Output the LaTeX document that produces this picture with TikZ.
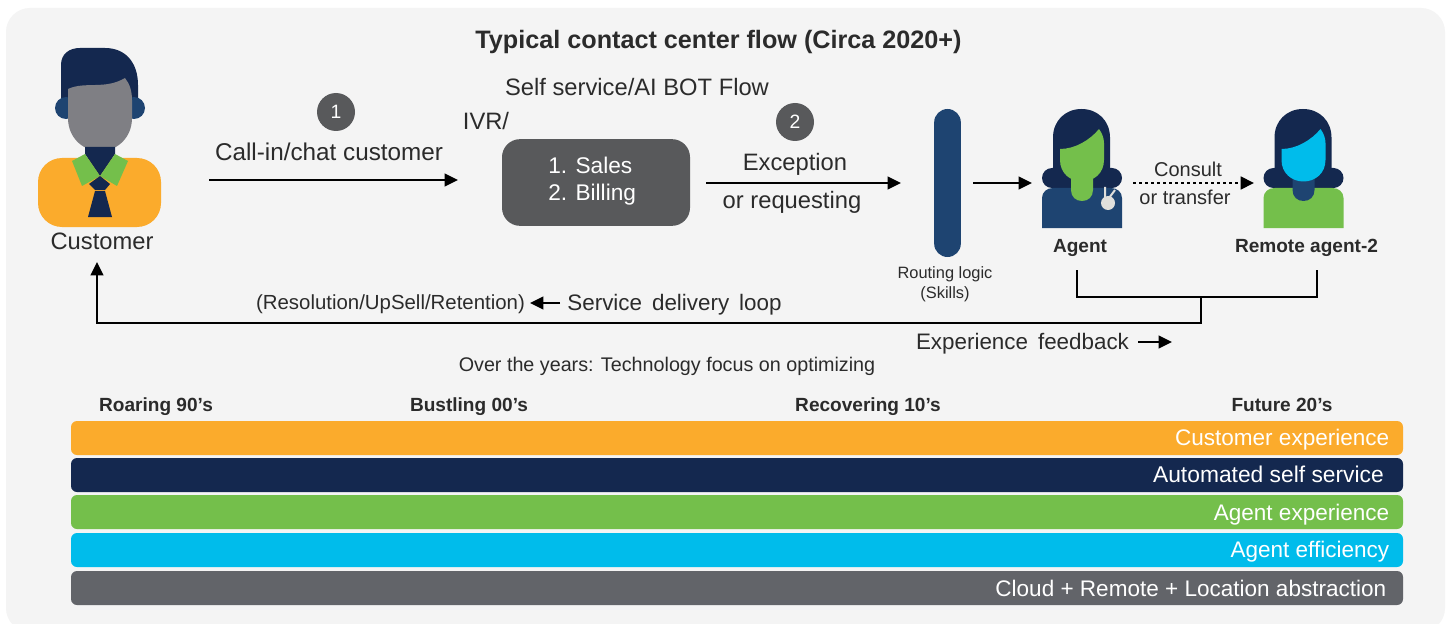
\documentclass[tikz,border=0pt]{standalone}
\usepackage{fontspec}
\setmainfont{Liberation Sans}
\usetikzlibrary{arrows.meta}
\definecolor{panelgray}{HTML}{F4F4F4}
\definecolor{ciscoorange}{HTML}{FBAB2C}
\definecolor{cisconavy}{HTML}{14284F}
\definecolor{ciscoblue}{HTML}{1E4471}
\definecolor{ciscogreen}{HTML}{74BF4B}
\definecolor{ciscocyan}{HTML}{00BCEB}
\definecolor{ciscogray}{HTML}{626469}
\definecolor{boxgray}{HTML}{58595B}
\definecolor{facegray}{HTML}{7F7F84}
\definecolor{inktext}{HTML}{2B2B2B}
\definecolor{scopegray}{HTML}{DFDFDC}
\tikzset{
  lbl/.style={text=inktext,inner sep=0pt,font=\fontsize{17.8}{20}\selectfont},
  widelbl/.style={text=inktext,inner sep=0pt,font=\fontsize{16.8}{20}\selectfont},
  smalllbl/.style={text=inktext,inner sep=0pt,font=\fontsize{15}{18}\selectfont},
  boldlbl/.style={text=inktext,inner sep=0pt,font=\bfseries\fontsize{14.3}{17}\selectfont},
  barbox/.style={fill=#1,rounded corners=4.5pt},
  barlbl/.style={text=white,inner sep=0pt,anchor=east,font=\fontsize{16.9}{20}\selectfont},
  stepnum/.style={circle,fill=boxgray,text=white,minimum size=28.5pt,inner sep=0pt,font=\fontsize{14.5}{17}\selectfont},
  flow/.style={draw=black,line width=1.5pt,-{Triangle[length=10pt,width=9.5pt]}},
  wire/.style={draw=black,line width=1.5pt}
}
\newcommand{\agentfig}[4]{
  \begin{scope}[shift={(#1,0)}]
    \fill[cisconavy,rounded corners=7.5pt] (1042,168) rectangle (1122,188);
    \fill[cisconavy] (1053,175) -- (1053,137.5) .. controls (1053,121) and (1065,109) .. (1081.5,109) .. controls (1098,109) and (1110,121) .. (1110,137.5) -- (1110,175) -- cycle;
    \fill[#3] (1042,228) -- (1042,198) .. controls (1042,192) and (1047,188) .. (1053,188) -- (1111,188) .. controls (1117,188) and (1122,192) .. (1122,198) -- (1122,228) -- cycle;
    \fill[#4] (1071,170) -- (1071,190) .. controls (1071,197) and (1076,201) .. (1082,201) .. controls (1088,201) and (1093,197) .. (1093,190) -- (1093,170) -- cycle;
    \fill[#2] (1060,149) .. controls (1075,149) and (1090,140) .. (1099,129) .. controls (1102,133) and (1104,138) .. (1104,143) -- (1104,160) .. controls (1104,173) and (1094,181.5) .. (1082,181.5) .. controls (1070,181.5) and (1060,173) .. (1060,160) -- cycle;
  \end{scope}
}
\begin{document}
\begin{tikzpicture}[x=0.75pt,y=-0.75pt]
\useasboundingbox (0,0) rectangle (1449,624);
\fill[white] (0,0) rectangle (1449,624);
\fill[panelgray,rounded corners=18pt] (6,8) rectangle (1445,632);

\node[inktext,inner sep=0pt,font=\bfseries\fontsize{18.9}{22}\selectfont] (title) at (718.5,41.5) {Typical contact center flow (Circa 2020+)};

% customer
\fill[cisconavy] (61,110) -- (61,65) .. controls (61,54) and (69,48) .. (80,48) -- (105,48) .. controls (125,48) and (138,62) .. (138,85) -- (138,110) -- cycle;
\fill[ciscoblue] (66,108) circle (11);
\fill[ciscoblue] (134,108) circle (11);
\fill[facegray] (68,89) .. controls (85,81) and (105,90) .. (125,78) .. controls (130,84) and (132,92) .. (132,100) -- (132,118) .. controls (132,137) and (118,151) .. (100,151) .. controls (82,151) and (68,137) .. (68,118) -- cycle;
\fill[ciscoorange,rounded corners=18pt] (38,158) rectangle (161,227);
\fill[cisconavy] (85,147) -- (115,147) -- (115,154) -- (100,176) -- (85,154) -- cycle;
\fill[ciscogreen] (72,161) -- (85,154) -- (100,176) -- (82,186) -- cycle;
\fill[ciscogreen] (128,161) -- (115,154) -- (100,176) -- (117,186) -- cycle;
\fill[cisconavy] (100,176) -- (110,184) -- (105,190) -- (95,190) -- (89,184) -- cycle;
\fill[cisconavy] (95,191) -- (105,191) -- (112,217) -- (88,217) -- cycle;
\node[lbl] (customer) at (102,241) {Customer};

% agents
\agentfig{0}{ciscogreen}{ciscoblue}{ciscogreen}
\fill[scopegray] (1108,203) circle (7);
\draw[scopegray,line width=1.5pt] (1105,198) -- (1105,187) (1109,198) -- (1115,190);
\agentfig{221.5}{ciscocyan}{ciscogreen}{ciscoblue}
\node[boldlbl] (agent) at (1080,248) {Agent};
\node[boldlbl] (remote) at (1306.5,247.5) {Remote agent-2};

% top row
\node[stepnum] (one) at (336,112) {1};
\node[stepnum] (two) at (795,122) {2};
\node[lbl,font=\fontsize{18.2}{20}\selectfont] (callin) at (329,152) {Call-in/chat customer};
\node[lbl] (selfserv) at (637,87) {Self service/AI BOT Flow};
\node[lbl] (ivr) at (486,121) {IVR/};
\node[fill=boxgray,rounded corners=13.5pt,minimum width=141pt,minimum height=65pt,inner sep=0pt] (sales) at (596,182.5) {};
\node[lbl,text=white,anchor=west,font=\fontsize{17}{20}\selectfont] (salesone) at (548,165.5) {1. Sales};
\node[lbl,text=white,anchor=west,font=\fontsize{17}{20}\selectfont] (salestwo) at (548,194.5) {2. Billing};
\node[lbl] (exception) at (795,164) {Exception};
\node[lbl] (requesting) at (792,202.5) {or requesting};
\node[fill=ciscoblue,rounded corners=10pt,minimum width=20pt,minimum height=111pt,inner sep=0pt] (routing) at (947.5,183) {};
\node[text=inktext,inner sep=0pt,align=center,font=\fontsize{12.3}{15}\selectfont] (routinglbl) at (945,284) {Routing logic\\(Skills)};
\node[smalllbl] (consult) at (1188,169) {Consult};
\node[smalllbl] (transfer) at (1185,197) {or transfer};

\coordinate (callstart) at (209,180);
\coordinate (callend) at (458,180);
\coordinate (excstart) at (706,183);
\coordinate (excend) at (901,183);
\coordinate (routstart) at (973,183);
\coordinate (routend) at (1032,183);
\coordinate (constart) at (1133,183);
\coordinate (conend) at (1254,183);
\draw[flow] (callstart) -- (callend);
\draw[flow] (excstart) -- (excend);
\draw[flow] (routstart) -- (routend);
\draw[flow,line width=2pt,dash pattern=on 2.2pt off 2.3pt] (constart) -- (conend);

% feedback lines
\coordinate (agentdown) at (1077,270);
\coordinate (remotedown) at (1317,270);
\coordinate (joindown) at (1201,297);
\coordinate (custup) at (97,262);
\draw[wire] (agentdown) |- (remotedown |- joindown) -- (remotedown);
\draw[flow] (joindown) -- (1201,323) -| (custup);

\node[text=inktext,inner sep=0pt,font=\fontsize{15.3}{18}\selectfont] (resolution) at (390.5,304.5) {(Resolution/UpSell/Retention)};
\node[widelbl] (delivery) at (674.5,305) {Service\, delivery\, loop};
\node[widelbl] (feedback) at (1022.5,344) {Experience\, feedback};
\coordinate (loopstart) at (560,303);
\coordinate (loopend) at (530,303);
\coordinate (fbstart) at (1138,342);
\coordinate (fbend) at (1172,342);
\draw[flow] (loopstart) -- (loopend);
\draw[flow] (fbstart) -- (fbend);
\node[text=inktext,inner sep=0pt,font=\fontsize{14.8}{18}\selectfont] (overyears) at (667,366) {Over the years: Technology focus on optimizing};

% decades
\node[boldlbl] (nineties) at (156,406.5) {Roaring 90’s};
\node[boldlbl] (noughts) at (469,406.5) {Bustling 00’s};
\node[boldlbl] (tens) at (868,406.5) {Recovering 10’s};
\node[boldlbl] (twenties) at (1282,405) {Future 20’s};

\fill[barbox=ciscoorange] (71,421) rectangle (1403,455);
\fill[barbox=cisconavy] (71,458) rectangle (1403,492);
\fill[barbox=ciscogreen] (71,495) rectangle (1403,529);
\fill[barbox=ciscocyan] (71,533) rectangle (1403,567);
\fill[barbox=ciscogray] (71,571) rectangle (1403,605);
\node[barlbl] (barone) at (1389.5,439.5) {Customer experience};
\node[barlbl,font=\fontsize{17.1}{20}\selectfont] (bartwo) at (1384,474) {Automated self service};
\node[barlbl] (barthree) at (1389.5,514.5) {Agent experience};
\node[barlbl] (barfour) at (1389.5,551.5) {Agent efficiency};
\node[barlbl] (barfive) at (1386.5,588) {Cloud + Remote + Location abstraction};
\end{tikzpicture}
\end{document}
